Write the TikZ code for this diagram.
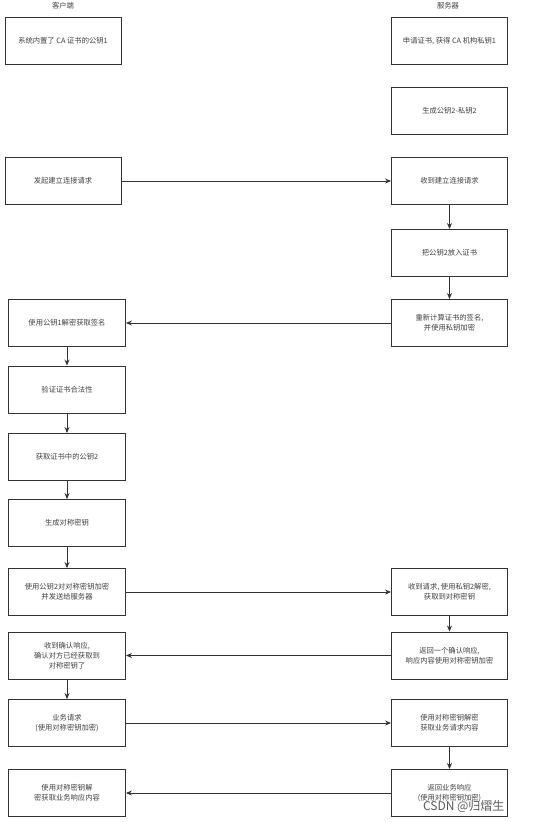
\documentclass[tikz,border=0pt]{standalone}
\usepackage{fontspec}
\setmainfont{Noto Sans CJK SC}
\usetikzlibrary{arrows.meta}

\begin{document}
\begin{tikzpicture}[x=1pt, y=-1pt,
	box/.style={draw=black!80, line width=0.9pt, minimum width=116pt, minimum height=47pt,
		align=center, text=black!75, font=\fontsize{7.3}{10}\selectfont, inner sep=1pt},
	flow/.style={draw=black!80, line width=0.9pt, -{Stealth[length=6pt, width=5pt]}},
	lane/.style={text=black!75, font=\fontsize{7.3}{9}\selectfont}]
	\useasboundingbox (0,0) rectangle (537,822);

	\node[lane] (client) at (63,6) {客户端};
	\node[lane] (server) at (448,6) {服务器};

	% client side
	\node[box] (c1) at (63,41) {系统内置了 CA 证书的公钥1};
	\node[box] (c2) at (63,181) {发起建立连接请求};
	\node[box, minimum width=117pt] (c3) at (67,323) {使用公钥1解密获取签名};
	\node[box, minimum width=117pt] (c4) at (67,389.5) {验证证书合法性};
	\node[box, minimum width=117pt] (c5) at (67,457) {获取证书中的公钥2};
	\node[box, minimum width=117pt] (c6) at (67,523) {生成对称密钥};
	\node[box, minimum width=117pt] (c7) at (67,592) {使用公钥2对对称密钥加密\\并发送给服务器};
	\node[box, minimum width=117pt] (c8) at (67,655.5) {收到确认响应,\\确认对方已经获取到\\对称密钥了};
	\node[box, minimum width=117pt] (c9) at (67,723) {业务请求\\(使用对称密钥加密)};
	\node[box, minimum width=117pt] (c10) at (67,793) {使用对称密钥解\\密获取业务响应内容};

	% server side
	\node[box] (s1) at (449.5,41) {申请证书, 获得 CA 机构私钥1};
	\node[box] (s2) at (449.5,111) {生成公钥2-私钥2};
	\node[box] (s3) at (449.5,181) {收到建立连接请求};
	\node[box] (s4) at (449.5,253) {把公钥2放入证书};
	\node[box] (s5) at (449.5,323) {重新计算证书的签名,\\并使用私钥加密};
	\node[box] (s6) at (449.5,592) {收到请求, 使用私钥2解密,\\获取到对称密钥};
	\node[box] (s7) at (449.5,655.5) {返回一个确认响应,\\响应内容使用对称密钥加密};
	\node[box] (s8) at (449.5,723) {使用对称密钥解密\\获取业务请求内容};
	\node[box] (s9) at (449.5,793) {返回业务响应\\(使用对称密钥加密)};

	\draw[flow] (c2) -- (s3);
	\draw[flow] (s3) -- (s4);
	\draw[flow] (s4) -- (s5);
	\draw[flow] (s5) -- (c3);
	\draw[flow] (c3) -- (c4);
	\draw[flow] (c4) -- (c5);
	\draw[flow] (c5) -- (c6);
	\draw[flow] (c6) -- (c7);
	\draw[flow] (c7) -- (s6);
	\draw[flow] (s6) -- (s7);
	\draw[flow] (s7) -- (c8);
	\draw[flow] (c8) -- (c9);
	\draw[flow] (c9) -- (s8);
	\draw[flow] (s8) -- (s9);
	\draw[flow] (s9) -- (c10);

	% watermark
	\node[text=black!65, font=\fontsize{12}{14}\selectfont, anchor=east] (mark) at (508,806) {CSDN @归熠生};
\end{tikzpicture}
\end{document}
